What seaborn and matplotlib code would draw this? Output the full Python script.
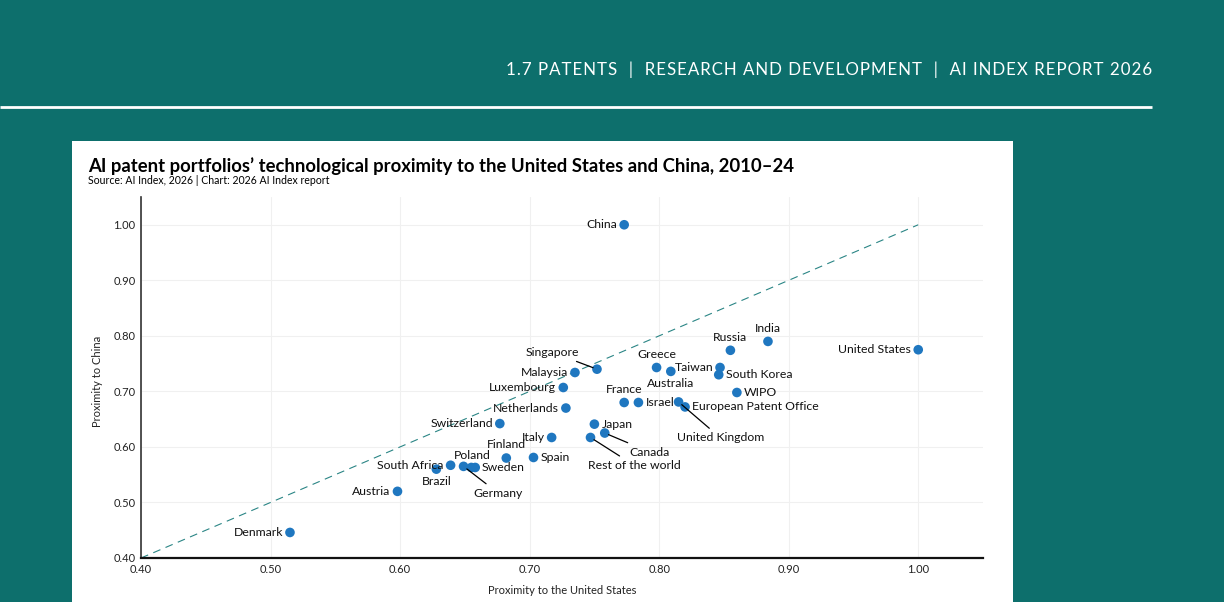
import matplotlib
matplotlib.use("Agg")
import matplotlib.pyplot as plt
from matplotlib.patches import Rectangle
import seaborn as sns
import pandas as pd

# data
countries = ['China', 'India', 'Russia', 'United States', 'Greece', 'Australia', 'Taiwan',
             'South Korea', 'WIPO', 'France', 'Israel', 'United Kingdom', 'European Patent Office',
             'Singapore', 'Malaysia', 'Luxembourg', 'Netherlands', 'Switzerland', 'Italy', 'Japan',
             'Canada', 'Rest of the world', 'Finland', 'Spain', 'Poland', 'Sweden', 'Germany',
             'South Africa', 'Brazil', 'Austria', 'Denmark']
prox_us = [0.773, 0.884, 0.855, 1.000, 0.798, 0.809, 0.847,
           0.846, 0.860, 0.773, 0.784, 0.815, 0.820,
           0.752, 0.735, 0.726, 0.728, 0.677, 0.717, 0.750,
           0.758, 0.747, 0.682, 0.703, 0.655, 0.658, 0.649,
           0.639, 0.628, 0.598, 0.515]
prox_cn = [1.000, 0.790, 0.774, 0.775, 0.743, 0.736, 0.743,
           0.730, 0.698, 0.680, 0.680, 0.681, 0.672,
           0.740, 0.734, 0.707, 0.670, 0.642, 0.617, 0.641,
           0.625, 0.617, 0.580, 0.581, 0.563, 0.563, 0.565,
           0.567, 0.560, 0.520, 0.446]

df = pd.DataFrame({'country': countries, 'us': prox_us, 'cn': prox_cn})

# label placement: (dx, dy) in pixels, ha, leader line
label_pos = {
    'China': (-7, 0, 'right', False),
    'India': (0, 13, 'center', False),
    'Russia': (0, 13, 'center', False),
    'United States': (-7, 0, 'right', False),
    'Greece': (0, 13, 'center', False),
    'Australia': (0, -12, 'center', False),
    'Taiwan': (-7, 0, 'right', False),
    'South Korea': (7, 0, 'left', False),
    'WIPO': (7, 0, 'left', False),
    'France': (0, 13, 'center', False),
    'Israel': (7, 0, 'left', False),
    'United Kingdom': (42, -36, 'center', True),
    'European Patent Office': (7, 0, 'left', False),
    'Singapore': (-45, 17, 'center', True),
    'Malaysia': (-7, 0, 'right', False),
    'Luxembourg': (-7, 0, 'right', False),
    'Netherlands': (-7, 0, 'right', False),
    'Switzerland': (-7, 0, 'right', False),
    'Italy': (-7, 0, 'right', False),
    'Japan': (7, 0, 'left', False),
    'Canada': (45, -19, 'center', True),
    'Rest of the world': (44, -28, 'center', True),
    'Finland': (0, 14, 'center', False),
    'Spain': (7, 0, 'left', False),
    'Poland': (1, 12, 'center', False),
    'Sweden': (6, 0, 'left', False),
    'Germany': (35, -27, 'center', True),
    'South Africa': (-7, 0, 'right', False),
    'Brazil': (0, -12, 'center', False),
    'Austria': (-7, 0, 'right', False),
    'Denmark': (-7, 0, 'right', False),
}

ticks = [0.40, 0.50, 0.60, 0.70, 0.80, 0.90, 1.00]

teal = '#0d6f6c'
sns.set_theme(style='white')
plt.rcParams['font.family'] = ['Lato', 'DejaVu Sans']

fig = plt.figure(figsize=(12.24, 6.02), dpi=100, facecolor=teal)

# white card behind the axes
fig.patches.append(Rectangle((72 / 1224, 0), (1013 - 72) / 1224, 1 - 141 / 602,
                             transform=fig.transFigure, facecolor='white', edgecolor='none', zorder=-5))
# header, spaced out a bit
header = '1.7 PATENTS  |  RESEARCH AND DEVELOPMENT  |  AI INDEX REPORT 2026'
fig.text(1152 / 1224, 1 - 70 / 602, '\u200a'.join(header),
         color='white', fontsize=12.2, ha='right', va='center', zorder=2)
fig.add_artist(plt.Line2D([0, 1152 / 1224], [1 - 107 / 602] * 2, color='white', lw=2,
                          transform=fig.transFigure, solid_capstyle='butt'))

fig.text(88 / 1224, 1 - 166 / 602,
         'AI patent portfolios\u2019 technological proximity to the United States and China, 2010\u201324',
         fontsize=13.3, fontweight='bold', color='black', ha='left', va='center', zorder=2)
fig.text(88 / 1224, 1 - 181 / 602, 'Source: AI Index, 2026 | Chart: 2026 AI Index report',
         fontsize=7.6, color='black', ha='left', va='center', zorder=2)

ax = fig.add_axes([141 / 1224, 1 - 558 / 602, (983 - 141) / 1224, (558 - 197) / 602])
ax.set_facecolor('white')

ax.plot([0.4, 1.0], [0.4, 1.0], color='#2a8585', lw=0.8, ls=(0, (7, 5)), zorder=1)

sns.scatterplot(data=df, x='us', y='cn', ax=ax, color='#1f77c0', s=48, edgecolor='none', zorder=3)

px = 0.72
for _, row in df.iterrows():
    dx, dy, ha, leader = label_pos[row['country']]
    props = None
    if leader:
        props = dict(arrowstyle='-', color='black', lw=0.9, shrinkA=1, shrinkB=3)
    ax.annotate(row['country'], xy=(row['us'], row['cn']), xytext=(dx * px, dy * px),
                textcoords='offset points', ha=ha, va='center', fontsize=8.8, color='#111111',
                arrowprops=props, zorder=4)

ax.set_xlim(0.40, 1.05)
ax.set_ylim(0.40, 1.05)
ax.set_xticks(ticks)
ax.set_yticks(ticks)
ax.set_xticklabels([f'{t:.2f}' for t in ticks])
ax.set_yticklabels([f'{t:.2f}' for t in ticks])
ax.tick_params(axis='both', length=0, labelsize=8, colors='#222222', pad=4)
ax.grid(True, color='#f0f0f0', lw=0.8)
ax.set_axisbelow(True)
for side in ['top', 'right']:
    ax.spines[side].set_visible(False)
ax.spines['left'].set_color('#333333')
ax.spines['left'].set_linewidth(1.2)
ax.spines['bottom'].set_color('#111111')
ax.spines['bottom'].set_linewidth(1.6)

ax.set_xlabel('Proximity to the United States', fontsize=8, color='#222222')
ax.set_ylabel('Proximity to China', fontsize=8, color='#222222')
ax.xaxis.set_label_coords(0.5, -0.075)
ax.yaxis.set_label_coords(-0.045, 0.49)

fig.savefig('out.png', dpi=100, facecolor=teal)
